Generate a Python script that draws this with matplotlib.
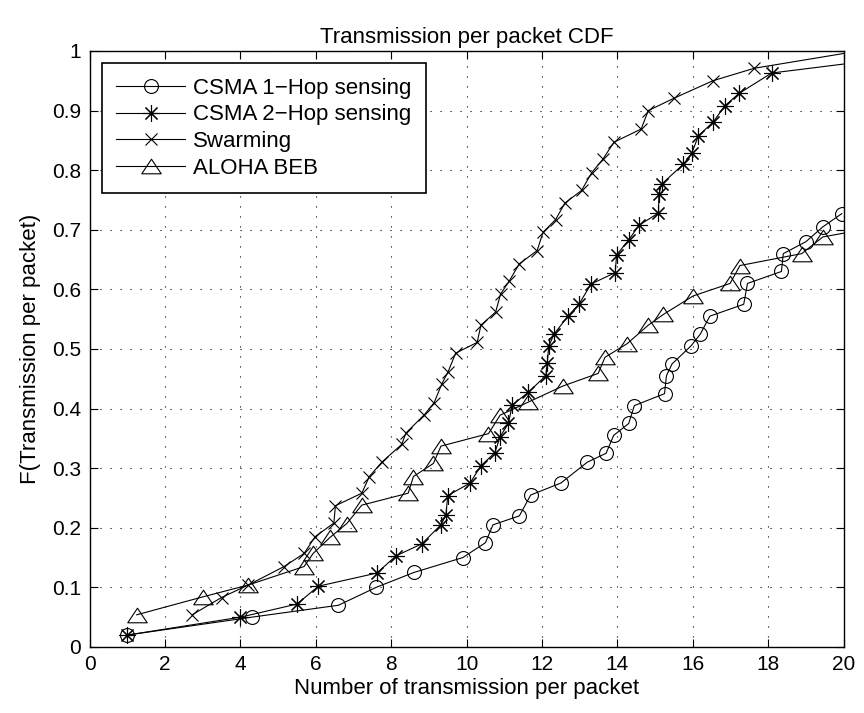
import numpy as np
import matplotlib
matplotlib.use("Agg")
import matplotlib.pyplot as plt
from matplotlib.path import Path

plt.rcParams['font.family'] = ['Liberation Sans', 'DejaVu Sans']

# CSMA 1-Hop sensing (circles)
csma1_x = [1.0, 4.3, 6.6, 7.6, 8.6, 9.9, 10.5, 10.7, 11.4, 11.7, 12.5, 13.2, 13.7, 13.9,
           14.3, 14.45, 15.25, 15.3, 15.45, 15.95, 16.2, 16.45, 17.35, 17.45, 18.35, 18.4,
           19.0, 19.45, 19.95]
csma1_y = [0.02, 0.05, 0.07, 0.10, 0.125, 0.15, 0.175, 0.205, 0.22, 0.255, 0.275, 0.31,
           0.325, 0.355, 0.375, 0.405, 0.425, 0.455, 0.475, 0.505, 0.525, 0.555, 0.575,
           0.61, 0.63, 0.66, 0.68, 0.705, 0.727]

# CSMA 2-Hop sensing (asterisks)
csma2_x = [1.0, 4.0, 5.5, 6.07, 7.62, 8.13, 8.81, 9.32, 9.45, 9.5, 10.09, 10.38, 10.75,
           10.89, 11.11, 11.21, 11.63, 12.1, 12.14, 12.18, 12.32, 12.7, 12.98, 13.3, 13.94,
           13.98, 14.3, 14.58, 15.09, 15.1, 15.18, 15.75, 15.97, 16.15, 16.53, 16.85, 17.23,
           18.09, 20.5]
csma2_y = [0.02, 0.05, 0.072, 0.102, 0.124, 0.153, 0.173, 0.205, 0.221, 0.254, 0.275, 0.304,
           0.326, 0.353, 0.375, 0.406, 0.427, 0.455, 0.477, 0.505, 0.525, 0.556, 0.575, 0.609,
           0.628, 0.658, 0.683, 0.708, 0.728, 0.76, 0.777, 0.81, 0.828, 0.858, 0.88, 0.908,
           0.929, 0.963, 0.982]

# Swarming (x)
swarm_x = [2.72, 3.5, 4.21, 5.16, 5.69, 5.98, 6.48, 6.52, 7.22, 7.42, 7.75, 8.28, 8.39, 8.87,
           9.14, 9.34, 9.51, 9.71, 10.28, 10.38, 10.77, 10.9, 11.13, 11.4, 11.87, 12.03, 12.36,
           12.61, 13.05, 13.32, 13.61, 13.91, 14.63, 14.82, 15.51, 16.53, 17.63, 20.5]
swarm_y = [0.054, 0.083, 0.104, 0.135, 0.157, 0.185, 0.208, 0.237, 0.258, 0.286, 0.31, 0.34,
           0.359, 0.389, 0.41, 0.441, 0.462, 0.493, 0.511, 0.54, 0.562, 0.592, 0.614, 0.643,
           0.665, 0.696, 0.717, 0.745, 0.766, 0.796, 0.818, 0.847, 0.869, 0.9, 0.921, 0.95,
           0.971, 1.001]

# ALOHA BEB (triangles)
aloha_x = [1.25, 3.0, 4.21, 5.69, 5.93, 6.38, 6.82, 7.22, 8.45, 8.59, 9.12, 9.32, 10.58, 10.89,
           11.64, 12.56, 13.49, 13.67, 14.26, 14.82, 15.22, 16.01, 16.99, 17.25, 18.89, 19.45,
           20.5]
aloha_y = [0.054, 0.084, 0.104, 0.135, 0.157, 0.184, 0.207, 0.238, 0.258, 0.286, 0.308, 0.337,
           0.358, 0.389, 0.411, 0.438, 0.459, 0.486, 0.509, 0.54, 0.558, 0.589, 0.61, 0.64,
           0.66, 0.688, 0.7]

# wide matlab style triangle
tri = Path([(-1, -0.75), (1, -0.75), (0, 0.75), (-1, -0.75)],
           [Path.MOVETO, Path.LINETO, Path.LINETO, Path.CLOSEPOLY])

fig = plt.figure(figsize=(8.64, 7.13), dpi=100)
ax = fig.add_axes([0.1037, 0.0926, 0.8727, 0.8359])

lw = 0.8
ax.plot(csma1_x, csma1_y, color='k', lw=lw, marker='o', ms=10, mfc='none', mew=lw,
        label='CSMA 1\u2212Hop sensing')
ax.plot(csma2_x, csma2_y, color='k', lw=lw, marker=(8, 2, 0), ms=12, mew=lw,
        label='CSMA 2\u2212Hop sensing')
ax.plot(swarm_x, swarm_y, color='k', lw=lw, marker='x', ms=8, mew=lw,
        label='Swarming')
ax.plot(aloha_x, aloha_y, color='k', lw=lw, marker=tri, ms=14, mfc='none', mew=lw,
        label='ALOHA BEB')

ax.set_xlim(0, 20)
ax.set_ylim(0, 1)
ax.set_xticks(np.arange(0, 21, 2))
ax.set_yticks(np.arange(0, 1.01, 0.1))
ax.set_yticklabels(['0', '0.1', '0.2', '0.3', '0.4', '0.5', '0.6', '0.7', '0.8', '0.9', '1'])
ax.tick_params(direction='in', top=True, right=True, length=6, width=0.8,
               labelsize=15, pad=6)
ax.grid(True, color='k', linestyle=(0, (1, 8)), lw=0.8)
for s in ax.spines.values():
    s.set_linewidth(1.0)

ax.set_title('Transmission per packet CDF', fontsize=16, pad=6)
ax.set_xlabel('Number of transmission per packet', fontsize=16, labelpad=3)
ax.set_ylabel('F(Transmission per packet)', fontsize=16, labelpad=8)

leg = ax.legend(loc='upper left', fontsize=16, borderaxespad=0.55, handlelength=3.1,
                handletextpad=0.35, labelspacing=0.25, borderpad=0.66, fancybox=False,
                edgecolor='k', framealpha=1)
leg.get_frame().set_linewidth(1.2)

fig.savefig('out.png', dpi=100)
